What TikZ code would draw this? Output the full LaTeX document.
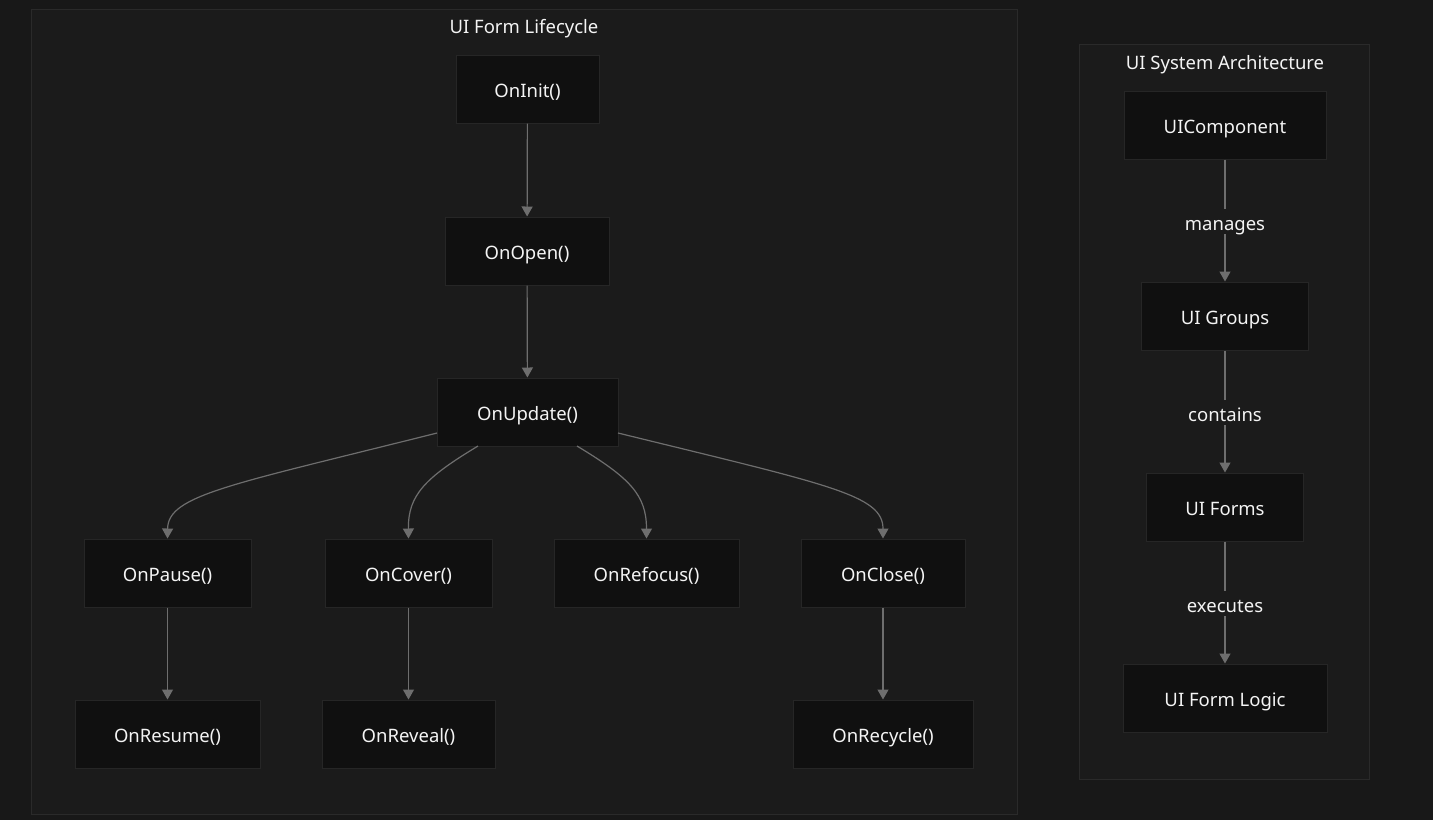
\documentclass[tikz,border=0pt]{standalone}
\usepackage{fontspec}
\setmainfont{Noto Sans}
\usetikzlibrary{arrows.meta}
\definecolor{bgc}{HTML}{181818}
\definecolor{clfill}{HTML}{1B1B1B}
\definecolor{clborder}{HTML}{2A2A2A}
\definecolor{ndfill}{HTML}{101010}
\definecolor{ndborder}{HTML}{262626}
\definecolor{edgec}{HTML}{6E6E6E}
\definecolor{txtc}{HTML}{F4F4F4}
\tikzset{
  cluster/.style={draw=clborder, fill=clfill, line width=1pt},
  box/.style={draw=ndborder, fill=ndfill, line width=1pt, minimum height=68pt, inner sep=0pt,
    text=txtc, text height=17pt, text depth=0pt, font=\fontsize{18.5}{22}\selectfont},
  ttl/.style={text=txtc, text height=17pt, text depth=0pt, font=\fontsize{18.5}{22}\selectfont, inner sep=0pt},
  elabel/.style={fill=clfill, text=txtc, text height=17pt, text depth=0pt, font=\fontsize{18.5}{22}\selectfont, inner sep=4pt},
  conn/.style={draw=edgec, line width=1.2pt, -{Triangle[length=10pt,width=11pt]}},
}
\begin{document}
\begin{tikzpicture}[x=1pt,y=-1pt]
\useasboundingbox (0,0) rectangle (1433,820);
\fill[bgc] (0,0) rectangle (1433,820);
% clusters
\draw[cluster] (31,9) rectangle (1017,814);
\draw[cluster] (1079,44) rectangle (1369,779);
\node[ttl] (t1) at (524,25) {UI Form Lifecycle};
\node[ttl] (t2) at (1225,61) {UI System Architecture};
% left nodes
\node[box, minimum width=143pt] (init) at (527.5,89) {OnInit()};
\node[box, minimum width=164pt] (open) at (527,251) {OnOpen()};
\node[box, minimum width=181pt] (upd) at (527.5,412) {OnUpdate()};
\node[box, minimum width=167pt] (pause) at (167.5,573) {OnPause()};
\node[box, minimum width=167pt] (cover) at (408.5,573) {OnCover()};
\node[box, minimum width=185pt] (refocus) at (646.5,573) {OnRefocus()};
\node[box, minimum width=164pt] (close) at (883,573) {OnClose()};
\node[box, minimum width=185pt] (resume) at (167.5,734) {OnResume()};
\node[box, minimum width=173pt] (reveal) at (408.5,734) {OnReveal()};
\node[box, minimum width=180pt] (recycle) at (883,734) {OnRecycle()};
% right nodes
\node[box, minimum width=202pt] (comp) at (1225,125) {UIComponent};
\node[box, minimum width=167pt] (groups) at (1225,316) {UI Groups};
\node[box, minimum width=157pt] (forms) at (1225,507) {UI Forms};
\node[box, minimum width=204pt] (logic) at (1225,698) {UI Form Logic};
% edges left
\draw[conn] (init) -- (open);
\draw[conn] (open) -- (upd);
\coordinate (u1) at (437,433);
\coordinate (u2) at (478,446);
\coordinate (u3) at (577,446);
\coordinate (u4) at (618,433);
\draw[conn] (u1) .. controls (230,485) and (168,495) .. (pause.north);
\draw[conn] (u2) .. controls (425,478) and (408,495) .. (cover.north);
\draw[conn] (u3) .. controls (630,478) and (646.5,495) .. (refocus.north);
\draw[conn] (u4) .. controls (830,485) and (883,495) .. (close.north);
\draw[conn] (pause) -- (resume);
\draw[conn] (cover) -- (reveal);
\draw[conn] (close) -- (recycle);
% edges right
\draw[conn] (comp) -- node[elabel, yshift=-1pt] {manages} (groups);
\draw[conn] (groups) -- node[elabel, yshift=-1pt] {contains} (forms);
\draw[conn] (forms) -- node[elabel, yshift=-1pt] {executes} (logic);
\end{tikzpicture}
\end{document}
